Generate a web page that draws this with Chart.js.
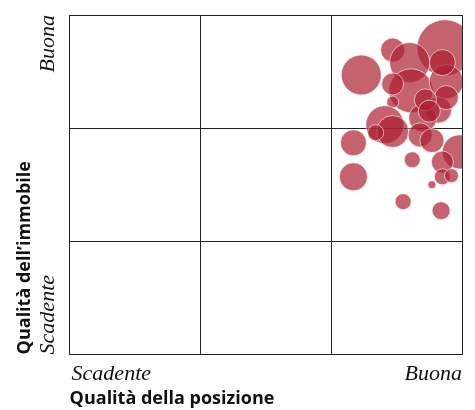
<!DOCTYPE html>
<html>
<head>
<meta charset="utf-8">
<script src="https://cdn.jsdelivr.net/npm/chart.js@4"></script>
<style>
  html, body { margin: 0; padding: 0; background: #fff; }
  #wrap { width: 475px; height: 410px; }
</style>
</head>
<body>
<div id="wrap"><canvas id="chart" width="475" height="410"></canvas></div>
<script>
// quality scores, 0 = Scadente, 3 = Buona
const posizione = [2.87, 2.23, 2.47, 2.60, 2.61, 2.88, 2.47, 2.47, 2.82, 2.88, 2.70, 2.72, 2.41, 2.47, 2.34, 2.68, 2.77, 2.98, 2.17, 2.17, 2.62, 2.85, 2.85, 2.92, 2.77, 2.55, 2.84, 2.85, 2.75];
const immobile  = [2.71, 2.47, 2.69, 2.58, 2.33, 2.41, 2.39, 2.23, 2.16, 2.27, 2.09, 2.25, 2.03, 1.97, 1.96, 1.94, 1.89, 1.79, 1.87, 1.57, 1.72, 1.70, 1.57, 1.58, 1.50, 1.35, 1.27, 2.58, 2.15];
const dimensione = [28, 20, 12, 20, 22, 17, 11, 6, 13, 12, 14, 11, 19, 16, 8, 12, 12, 17, 13, 14, 8, 11, 8, 7, 4, 8, 9, 13, 11];
const tickLabels = ['Scadente', 'Buona'];

const points = posizione.map((x, i) => ({ x: x, y: immobile[i], r: dimensione[i] }));

// end labels drawn at the axis extremes
const endLabels = {
    id: 'endLabels',
    afterDraw(chart) {
        const { ctx, chartArea, scales } = chart;
        ctx.save();
        ctx.fillStyle = '#111';
        ctx.font = 'italic 22px "Liberation Serif"';
        ctx.textBaseline = 'middle';
        // x axis
        const ly = chartArea.bottom + 20;
        ctx.textAlign = 'left';
        ctx.fillText(tickLabels[0], scales.x.getPixelForValue(0) + 2, ly);
        ctx.textAlign = 'right';
        ctx.fillText(tickLabels[1], scales.x.getPixelForValue(3), ly);
        // y axis
        ctx.translate(chartArea.left - 21, 0);
        ctx.rotate(-Math.PI / 2);
        ctx.textAlign = 'left';
        ctx.fillText(tickLabels[0], -scales.y.getPixelForValue(0), 0);
        ctx.textAlign = 'right';
        ctx.fillText(tickLabels[1], -scales.y.getPixelForValue(3), 0);
        ctx.restore();
    }
};

new Chart(document.getElementById('chart'), {
    type: 'bubble',
    data: {
        datasets: [{
            data: points,
            backgroundColor: 'rgba(171, 32, 49, 0.7)',
            borderColor: 'rgba(255, 255, 255, 0.6)',
            borderWidth: 1,
            clip: 0
        }]
    },
    options: {
        responsive: false,
        animation: false,
        events: [],
        layout: { autoPadding: false, padding: { left: 5, top: 15, right: 13, bottom: 0 } },
        plugins: { legend: { display: false }, tooltip: { enabled: false } },
        scales: {
            x: {
                type: 'linear',
                min: 0, max: 3,
                ticks: { display: false, stepSize: 1 },
                grid: { color: '#222', lineWidth: 1, drawTicks: false },
                border: { color: '#222' },
                title: {
                    display: true,
                    text: 'Qualità della posizione',
                    align: 'start',
                    color: '#111',
                    font: { family: 'Open Sans', size: 18, weight: 'bold' },
                    padding: { top: 34, bottom: 0 }
                }
            },
            y: {
                type: 'linear',
                min: 0, max: 3,
                ticks: { display: false, stepSize: 1 },
                grid: { color: '#222', lineWidth: 1, drawTicks: false },
                border: { color: '#222' },
                title: {
                    display: true,
                    text: 'Qualità dell’immobile',
                    align: 'start',
                    color: '#111',
                    font: { family: 'Open Sans', size: 18, weight: 'bold' },
                    padding: { top: 9, bottom: 34 }
                }
            }
        }
    },
    plugins: [endLabels]
});
</script>
</body>
</html>
